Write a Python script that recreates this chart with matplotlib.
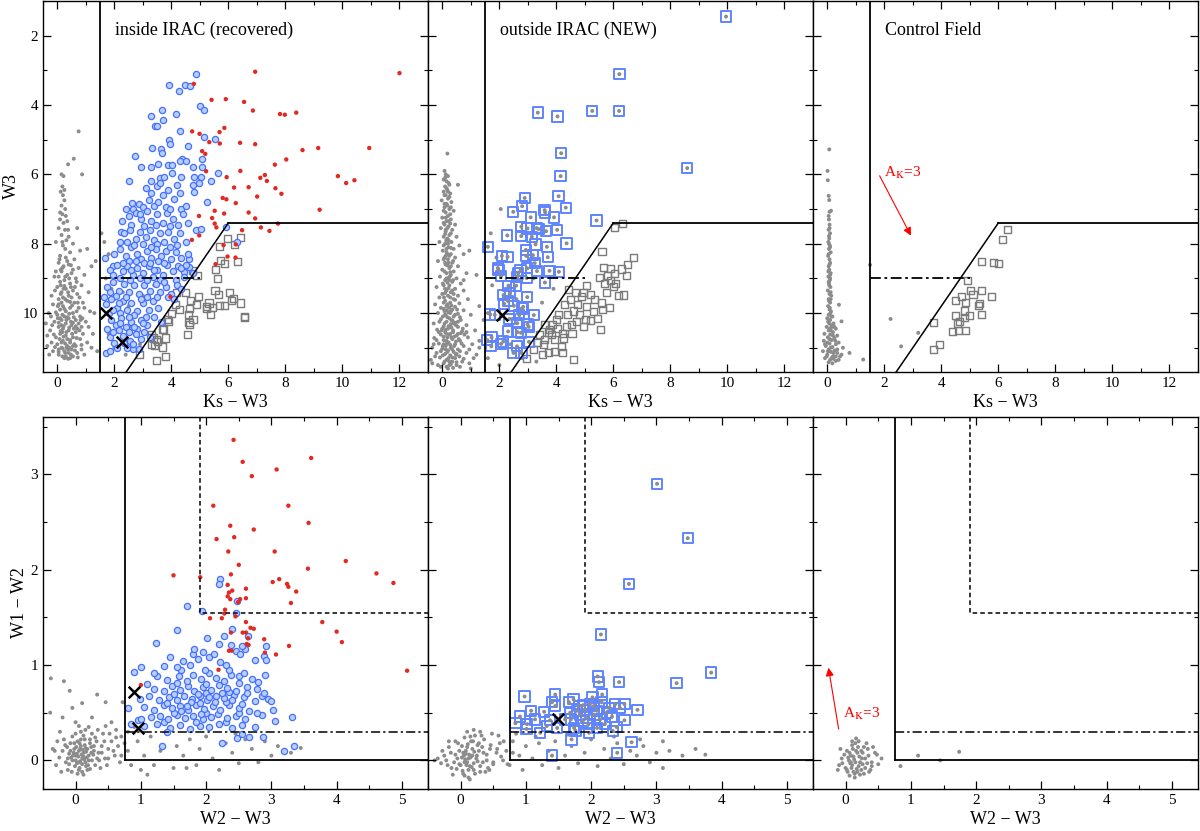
import matplotlib
matplotlib.use("Agg")
import matplotlib.pyplot as plt
import numpy as np
from matplotlib.ticker import MultipleLocator

plt.rcParams['font.family'] = ['Liberation Serif', 'DejaVu Serif']
plt.rcParams['mathtext.fontset'] = 'stix'

# ---------------- data: Ks-W3 vs W3 (top row) ----------------
# inside IRAC: red dots
in_red = [(4.79,3.39),(6.94,3.04),(12.0,3.08),(5.41,3.85),(5.91,3.83),(6.55,3.91),(6.86,4.16),
          (7.81,4.26),(7.98,4.28),(8.38,4.22),(4.73,4.76),(4.99,4.83),(5.86,4.66),(5.69,4.78),
          (5.33,5.07),(5.70,5.11),(6.41,5.09),(6.94,5.13),(8.60,5.30),(9.15,5.24),(10.94,5.24),
          (5.08,5.33),(5.19,5.41),(7.63,5.72),(8.03,5.57),(5.22,5.91),(6.42,5.90),(5.94,6.08),
          (7.28,6.02),(7.12,6.10),(7.35,6.19),(9.84,6.05),(10.13,6.25),(10.42,6.17),(6.20,6.38),
          (6.71,6.37),(7.65,6.40),(7.86,6.56),(7.01,6.64),(5.80,6.68),(5.93,6.72),(6.26,6.83),
          (5.52,7.05),(6.71,7.10),(5.85,7.13),(4.97,7.20),(9.20,7.02),(5.43,7.26),(6.94,7.27),
          (5.52,7.42),(5.58,7.53),(7.14,7.53),(7.74,7.42),(7.44,7.63),(6.48,7.61),(4.98,7.76),
          (4.72,7.89),(5.83,8.04),(6.26,8.02),(5.97,8.37),(6.25,8.40),(5.55,8.59),(3.97,9.53)]

in_blue = [(4.85,3.10),(3.92,3.42),(4.27,3.59),(4.48,3.43),(4.65,3.46),(5.00,4.02),(5.13,4.13),
           (3.66,4.13),(3.27,4.31),(4.17,4.27),(3.72,4.42),(3.42,4.60),(3.51,4.60),(4.29,4.74),
           (5.13,4.93),(5.52,4.98),(3.93,5.02),(3.95,5.11),(3.33,5.24),(3.64,5.28),(3.66,5.38),
           (4.57,5.18),(2.74,5.48),(5.07,5.57),(4.36,5.57),(4.29,5.62),(4.53,5.62),(3.52,5.70),
           (3.89,5.74),(4.03,5.74),(2.95,5.78),(3.27,5.80),(4.76,5.78),(5.08,5.78),(2.51,6.19),
           (5.63,5.95),(4.02,5.95),(4.35,6.08),(4.79,6.07),(5.05,6.07),(5.38,6.20),(4.96,6.25),
           (4.75,6.32),(3.30,6.19),(3.61,6.10),(3.73,6.08),(4.78,6.50),(5.26,6.81),(2.61,6.82),
           (2.27,7.35),(2.22,7.66),(1.67,8.41),(1.96,8.63),(1.64,9.53),(1.70,11.15),(2.65,11.05),
           (4.35,7.00),(4.87,7.60),(5.04,7.58),(6.29,7.94),(5.92,7.53),(4.63,8.45),(4.61,8.68),
           (4.44,8.82),
           (2.85,6.85),(3.10,6.40),(3.30,6.55),(3.50,6.35),(3.70,6.60),(3.90,6.45),(4.10,6.70),
           (4.30,6.55),(3.00,6.95),(3.40,6.90),(3.80,6.95),(4.50,6.90),(2.65,7.00),(3.60,6.25),
           (4.20,6.30),(2.50,7.20),(2.75,7.10),(2.95,7.30),(3.15,7.05),(3.30,7.35),(3.50,7.15),
           (3.70,7.40),(3.85,7.10),(4.05,7.30),(4.25,7.45),(4.40,7.15),(2.60,7.45),(3.05,7.50),
           (3.45,7.45),(3.95,7.50),(4.60,7.40),(2.35,7.70),(2.55,7.60),(2.75,7.85),(2.90,7.65),
           (3.10,7.80),(3.25,7.60),(3.40,7.90),(3.60,7.70),(3.75,7.95),(3.90,7.65),(4.10,7.85),
           (4.30,7.70),(4.50,7.95),(2.20,7.95),(3.00,8.00),(3.50,8.00),(4.20,8.05),(2.00,8.30),
           (2.20,8.15),(2.40,8.35),(2.60,8.10),(2.80,8.30),(2.95,8.45),(3.15,8.20),(3.30,8.40),
           (3.45,8.15),(3.65,8.35),(3.80,8.20),(4.00,8.45),(4.15,8.25),(4.35,8.40),(2.50,8.50),
           (3.05,8.55),(3.55,8.50),(4.60,8.30),(1.85,8.75),(2.10,8.60),(2.30,8.80),(2.45,8.65),
           (2.65,8.90),(2.80,8.70),(3.00,8.85),(3.20,8.65),(3.35,8.95),(3.50,8.75),(3.70,8.90),
           (3.85,8.60),(4.05,8.80),(4.25,8.65),(4.45,8.95),(2.20,9.00),(2.90,9.00),(3.60,9.05),
           (4.15,9.05),(4.75,8.85),(1.75,9.25),(1.95,9.10),(2.15,9.35),(2.35,9.15),(2.50,9.40),
           (2.70,9.20),(2.85,9.45),(3.05,9.20),(3.25,9.35),(3.45,9.15),(3.60,9.40),(3.80,9.25),
           (4.00,9.45),(4.20,9.20),(2.05,9.50),(3.15,9.55),(3.90,9.55),(1.70,9.75),(1.90,9.60),
           (2.10,9.85),(2.30,9.65),(2.45,9.90),(2.60,9.70),(2.80,9.95),(3.00,9.70),(3.20,9.90),
           (3.35,9.65),(3.55,9.85),(1.80,10.00),(2.20,10.00),(2.70,10.05),(3.10,10.10),(1.90,10.20),
           (2.05,10.35),(2.25,10.15),(2.40,10.40),(2.60,10.25),(2.80,10.45),(2.95,10.20),(3.15,10.35),
           (1.75,10.45),(2.15,10.50),(2.50,10.55),(1.85,10.70),(2.00,10.85),(2.30,10.65),(2.55,10.80),
           (2.75,10.60),(2.95,10.75),(2.10,11.00),(2.45,11.00),(2.65,10.90),(3.05,10.55),
           (2.40,7.00),(2.90,7.15),(3.20,6.75),(3.55,6.80),(3.95,7.00),(2.45,7.95),(2.70,8.05),
           (3.30,8.10),(3.95,8.10),(2.30,8.55),(2.75,8.50),(3.25,8.55),(3.75,8.55),(4.35,8.70),
           (1.95,8.90),(2.55,9.05),(3.15,9.05),(3.75,9.10),(4.35,9.30),(1.85,9.40),(2.40,9.55),
           (2.95,9.60),(3.50,9.55),(4.10,9.60),(1.95,9.90),(2.50,10.10),(3.00,10.30),(2.20,10.30),
           (1.95,10.55),(2.70,10.40),(2.35,10.85),(2.85,11.05),(1.85,11.10),(3.25,10.70),(3.40,10.10),
           (2.15,9.70),(2.60,8.75),(3.40,8.75),(4.50,8.60),(3.65,10.25)]

in_sq = [(5.97,7.84),(5.70,8.08),(6.43,7.83),(6.20,8.03),(5.74,8.48),(5.86,8.56),(6.33,8.50),
         (5.56,8.74),(4.74,8.77),(4.90,8.93),(5.63,9.00),(5.53,9.36),(5.66,9.47),(6.05,9.42),
         (4.95,9.51),(6.17,9.58),(6.12,9.63),(4.50,9.40),(4.17,9.40),(4.66,9.63),(4.87,9.76),
         (5.23,9.81),(5.32,9.71),(5.43,9.83),(5.70,9.79),(5.87,9.79),(6.42,9.71),(4.15,9.75),
         (4.29,9.89),(4.59,10.05),(4.64,9.88),(3.99,10.00),(5.23,9.88),(5.37,10.03),(6.55,10.09),
         (6.57,10.14),(4.76,10.19),(4.62,10.26),(4.64,10.33),(3.86,10.19),(3.89,10.24),(3.74,10.46),
         (3.68,10.48),(4.56,10.62),(3.31,10.62),(3.36,10.72),(3.47,10.75),(3.51,10.81),(3.32,10.91),
         (3.40,10.93),(3.70,10.98),(3.78,11.26),(3.47,11.37),(2.89,11.20),(3.81,10.72)]

in_gray = [(0.75,4.76),(0.58,5.55),(0.38,5.71),(0.87,6.00),(0.15,6.00),(0.22,6.05),(0.18,6.35),
           (0.12,6.50),(0.20,6.60),(0.25,6.75),(0.15,6.90),(0.28,7.00),(0.18,7.15),(0.30,7.20),
           (0.10,7.30),(0.22,7.40),(0.35,7.35),(0.05,7.55),(0.27,7.60),(0.70,7.55),(0.15,7.75),
           (0.40,7.80),(0.32,7.90),(-0.05,7.95),(0.55,8.00),(0.20,8.05),(1.05,8.15),(0.80,8.20),
           (0.45,8.25),(0.10,8.35),(0.30,8.40),(0.60,8.45),(0.05,8.55),(0.40,8.60),(0.22,8.65),
           (0.75,8.70),(0.15,8.80),(0.50,8.85),(0.35,8.90),(-0.10,8.95),(0.65,9.00),(0.25,9.05),
           (0.10,9.10),(0.45,9.15),(0.85,9.20),(0.00,9.25),(0.30,9.30),(0.55,9.35),(0.15,9.40),
           (1.10,9.40),(0.70,9.45),(-0.20,9.50),(0.40,9.50),(0.20,9.55),(1.35,8.50),(1.20,8.65),
           (0.95,8.90),(0.05,9.60),(0.35,9.65),(0.60,9.70),(0.90,9.70),(-0.15,9.75),(0.20,9.80),
           (0.45,9.85),(0.75,9.85),(0.10,9.90),(0.30,9.95),(1.15,9.95),(0.55,10.00),(-0.30,10.00),
           (0.00,10.05),(0.25,10.10),(0.80,10.10),(0.40,10.15),(0.15,10.20),(0.65,10.20),(-0.10,10.25),
           (1.00,10.25),(0.30,10.30),(0.50,10.35),(0.05,10.40),(0.85,10.40),(0.20,10.45),(-0.25,10.50),
           (0.40,10.50),(0.65,10.55),(0.10,10.60),(1.25,10.60),(0.30,10.65),(0.55,10.70),(-0.05,10.70),
           (0.80,10.75),(0.20,10.80),(0.45,10.85),(1.05,10.85),(0.00,10.90),(0.35,10.95),(0.65,10.95),
           (-0.35,10.95),(0.15,11.00),(0.50,11.05),(0.85,11.05),(0.25,11.10),(-0.15,11.10),(0.40,11.15),
           (0.70,11.15),(0.05,11.20),(0.30,11.25),(0.55,11.25),(1.40,11.10),(0.95,11.20),(-0.40,10.30),
           (1.30,10.00),(0.70,10.45),(0.15,9.70),(0.50,9.55),(0.35,10.75),(0.60,10.90),(0.90,10.60),
           (-0.20,10.85),(0.25,11.30),(0.45,11.30),(0.10,10.15),(0.75,10.30),(0.05,11.05),(0.28,8.15),
           (0.12,8.75),(0.48,9.25),(0.02,9.80),(0.58,10.12),(0.18,10.55),(0.42,11.00),(0.68,9.10),
           (0.08,8.45),(0.35,8.50),(0.18,8.70),(0.55,8.75),(-0.05,8.80),(0.28,8.95),(0.42,9.00),
           (0.12,9.20),(0.62,9.25),(0.22,9.30),(-0.08,9.35),(0.38,9.40),(0.78,9.55),(0.28,9.60),
           (0.05,9.75),(0.52,9.78),(0.25,9.88),(0.68,9.95),(-0.05,9.98),(0.42,10.02),(0.18,10.05),
           (0.88,10.15),(0.32,10.20),(0.05,10.28),(0.55,10.28),(-0.18,10.35),(0.22,10.38),(0.42,10.42),
           (0.78,10.50),(0.12,10.52),(0.32,10.55),(0.52,10.60),(-0.12,10.62),(0.22,10.68),(0.68,10.72),
           (0.08,10.75),(0.45,10.78),(0.28,10.88),(0.85,10.92),(-0.08,10.98),(0.18,11.02),(0.38,11.05),
           (0.62,11.08),(0.05,11.12),(0.28,11.15),(0.48,11.20),(-0.28,11.20),(0.18,11.25),(0.72,11.28),
           (0.38,11.32),(0.12,9.45),(0.45,9.68),(0.02,10.15),(0.65,10.38),(0.35,10.12),(0.15,10.85),
           (0.55,10.95),(0.95,9.85),(1.10,10.40),(1.20,11.00),(-0.35,10.65),(0.25,9.22),(0.05,8.95),
           (0.48,8.62),(0.18,7.95),(0.38,7.60),(0.10,7.10),(0.25,6.45),(0.32,11.00),(0.58,10.45),
           (0.82,10.20),(0.15,10.35),(-0.22,10.10),(0.48,10.25),(0.72,9.70),
           (1.55,7.70),(1.65,7.95),(1.80,8.30),(1.70,9.00),(1.90,9.30),(2.00,9.60),(2.30,9.40),
           (2.50,9.80),(2.70,9.20),(3.00,9.50),(2.20,10.20),(2.60,10.40),(3.10,10.60),(1.80,10.60),
           (2.00,11.00),(2.40,11.20),(2.90,10.90),(3.40,9.20),(3.60,9.90)]

in_cross = [(1.70,10.00),(2.28,10.84)]

# outside IRAC
out_blue = [(9.95,1.45),(6.21,3.11),(3.35,4.22),(4.04,4.33),(5.26,4.17),(6.20,4.17),(4.17,5.39),
            (4.15,6.05),(8.59,5.82),(4.08,6.63),(2.89,6.68),(2.80,6.92),(2.49,7.08),(3.59,7.03),
            (3.61,7.10),(4.33,6.96),(3.92,7.24),(3.10,7.24),(5.41,7.33),(2.77,7.51),(2.99,7.56),
            (3.31,7.55),(3.38,7.58),(4.03,7.60),(3.64,7.64),(2.28,7.76),(2.77,7.78),(3.14,7.80),
            (4.36,7.99),(3.27,8.02),(3.67,8.09),(1.60,8.09),(2.09,8.35),(2.29,8.38),(2.93,8.18),
            (2.94,8.35),(3.18,8.33),(3.70,8.39),(3.24,8.56),(1.95,8.70),(1.97,8.75),(2.98,8.71),
            (2.74,8.77),(2.06,8.93),(2.66,8.86),(2.63,8.96),(2.96,8.99),(3.32,8.79),(3.76,8.78),
            (4.09,8.81),(3.60,9.12),(2.32,9.21),(2.59,9.21),(2.15,9.48),(2.38,9.43),(2.98,9.54),
            (2.30,9.65),(2.17,9.73),(2.51,9.79),(2.84,9.82),(2.79,9.87),(1.68,10.04),(1.84,10.05),
            (3.21,10.06),(2.70,10.06),(2.36,10.17),(2.99,10.33),(2.63,10.29),(3.03,10.40),(2.64,10.55),
            (2.31,10.53),(2.76,10.57),(3.04,10.83),(1.58,10.78),(1.73,10.70),(2.06,10.89),(1.72,10.96),
            (2.62,10.96),(2.50,11.15),(2.78,11.15),(2.14,10.82)]

out_sq = [(6.33,7.42),(6.03,7.54),(5.60,8.23),(6.72,8.40),(6.50,8.61),(6.27,8.73),(6.46,8.93),
          (5.90,8.71),(5.64,8.69),(5.78,8.93),(5.50,8.97),(6.09,9.14),(6.01,9.23),(6.36,9.48),
          (6.19,9.49),(5.76,9.42),(5.85,9.83),(5.57,9.71),(5.20,9.47),(4.95,9.40),(4.87,9.52),
          (4.66,9.42),(4.42,9.33),(4.50,9.62),(4.29,9.76),(4.61,9.94),(4.82,10.04),(5.06,9.81),
          (5.29,9.95),(5.62,9.90),(5.02,10.19),(4.71,10.24),(5.20,10.21),(5.54,10.48),(4.53,10.33),
          (4.36,10.38),(4.07,10.05),(4.01,10.19),(3.87,10.33),(3.77,10.48),(3.57,10.33),(3.83,10.62),
          (4.22,10.60),(4.25,10.72),(3.94,10.76),(3.71,10.55),(3.42,10.62),(3.33,10.86),(3.54,10.91),
          (4.18,10.96),(3.73,11.13),(3.92,11.10),(4.21,11.15),(4.59,11.34),(5.35,9.60),(5.05,9.20),
          (4.75,9.75),(5.45,10.15),(4.95,10.40),(3.60,10.75),(4.40,10.05),(5.90,9.05),(3.20,11.05),
          (3.50,11.20),(2.95,11.30),(4.05,10.45),(5.70,9.15),(6.05,8.85),(4.55,10.60)]

out_gray = [(0.18,5.40),(0.08,5.90),(0.12,6.00),(0.20,6.05),(0.05,6.15),(0.15,6.20),(0.25,6.30),
            (0.10,6.35),(0.55,6.30),(0.18,6.45),(0.05,6.50),(0.28,6.55),(0.12,6.60),(0.20,6.70),
            (-0.02,6.75),(0.32,6.80),(0.15,6.85),(0.08,6.95),(0.25,7.00),(0.40,7.05),(0.12,7.10),
            (0.20,7.20),(0.00,7.25),(0.30,7.30),(0.15,7.35),(0.08,7.45),(0.45,7.45),(0.22,7.50),
            (-0.05,7.55),(0.35,7.60),(0.12,7.65),(0.25,7.75),(0.05,7.80),(0.50,7.80),(0.18,7.85),
            (0.32,7.95),(-0.10,7.95),(0.10,8.00),(0.60,8.05),(0.22,8.10),(0.40,8.15),(0.02,8.20),
            (0.15,8.25),(0.30,8.30),(0.75,8.30),(0.08,8.40),(0.45,8.40),(0.20,8.45),(-0.15,8.50),
            (0.35,8.55),(0.12,8.60),(0.55,8.65),(0.25,8.70),(0.00,8.75),(0.40,8.80),(0.15,8.85),
            (0.85,8.85),(0.30,8.90),(-0.08,8.95),(0.20,9.00),(0.50,9.00),(0.10,9.05),(0.35,9.10),
            (0.65,9.15),(0.05,9.20),(0.25,9.20),(-0.20,9.25),(0.45,9.30),(0.15,9.35),(0.75,9.35),
            (0.30,9.40),(0.00,9.45),(0.55,9.50),(0.20,9.50),(-0.10,9.55),(0.40,9.60),(0.10,9.65),
            (0.90,9.60),(0.28,9.70),(0.60,9.72),(-0.25,9.75),(0.15,9.80),(0.45,9.82),(0.05,9.88),
            (0.35,9.90),(0.75,9.92),(0.22,9.98),(-0.15,10.00),(0.55,10.02),(0.10,10.05),(0.40,10.10),
            (1.00,10.05),(0.25,10.15),(-0.05,10.18),(0.65,10.20),(0.15,10.25),(0.45,10.28),(-0.30,10.30),
            (0.30,10.32),(0.85,10.35),(0.05,10.38),(0.55,10.40),(0.20,10.45),(-0.18,10.48),(0.38,10.50),
            (0.70,10.52),(0.10,10.55),(1.15,10.50),(0.28,10.60),(-0.05,10.62),(0.50,10.65),(0.18,10.70),
            (0.90,10.70),(-0.28,10.72),(0.35,10.75),(0.05,10.78),(0.62,10.80),(0.22,10.85),(-0.12,10.88),
            (0.45,10.90),(1.05,10.90),(0.12,10.95),(0.75,10.95),(0.30,11.00),(-0.35,11.00),(0.00,11.03),
            (0.55,11.05),(0.20,11.08),(0.40,11.12),(-0.20,11.15),(0.85,11.15),(0.10,11.18),(0.28,11.22),
            (0.60,11.25),(-0.08,11.28),(0.45,11.30),(0.15,11.35),(1.20,11.20),(0.35,11.40),(0.70,11.40),
            (-0.40,11.35),(0.05,11.45),(0.25,11.50),(0.50,11.50),(0.12,11.05),(0.32,10.42),(0.08,9.95),
            (0.18,9.12),(0.22,8.55),(0.28,7.42),(0.02,10.95),(0.42,10.68),(0.65,10.58),(0.15,11.55),
            (0.38,11.58),(-0.15,11.50),(0.95,11.45),(1.30,10.80),(0.14,7.90),(0.26,8.95),(0.06,9.55),
            (0.36,10.22),(0.16,10.88),(0.48,11.20),(-0.02,10.50),(0.24,9.85),(0.12,8.35),(0.30,6.95),
            (0.10,6.10),(0.22,6.25),(0.15,6.40),(0.08,6.60),(0.25,6.65),(0.18,6.90),(0.05,7.05),
            (0.28,7.15),(0.12,7.25),(0.22,7.35),(0.05,7.40),(0.18,7.55),(0.30,7.70),(0.10,7.72),
            (0.22,7.90),(0.05,8.05),(0.30,8.12),(0.15,8.15),(0.25,8.35),(0.05,8.45),(0.38,8.50),
            (0.18,8.62),(0.08,8.80),(0.28,8.82),(0.15,9.00),(0.38,9.05),(0.02,9.15),(0.22,9.28),
            (0.35,9.35),(0.10,9.42),(0.28,9.55),(0.45,9.62),(0.05,9.70),(0.18,9.75),(0.32,9.78),
            (-0.05,9.85),(0.52,9.90),(0.15,9.92),(0.28,10.00),(0.02,10.10),(0.45,10.05),(0.18,10.12),
            (0.62,10.12),(0.32,10.20),(-0.10,10.25),(0.08,10.30),(0.48,10.35),(0.22,10.38),(0.72,10.45),
            (0.12,10.48),(0.38,10.55),(-0.12,10.55),(0.55,10.60),(0.25,10.62),(0.05,10.68),(0.78,10.62),
            (0.32,10.70),(-0.20,10.78),(0.15,10.80),(0.48,10.82),(0.68,10.88),(0.28,10.92),(0.05,10.90),
            (-0.05,11.10),(0.35,11.05),(0.62,11.10),(0.18,11.12),(0.50,11.18),(0.02,11.22),(0.35,11.28),
            (-0.25,11.25),(0.22,11.30),(0.75,11.32),(0.08,11.40),(0.50,11.42),(0.30,11.48),(-0.05,11.55),
            (0.62,11.55),(0.20,11.60),(0.42,10.95),(0.58,10.75),(0.12,10.05),(0.40,9.45),(0.25,9.05),
            (0.10,8.55),(0.20,8.00),(0.12,7.60),(0.08,6.85),(0.20,6.50),(0.30,9.95),(0.55,10.25),
            (0.85,10.55),(0.95,11.05),(1.10,11.30),(-0.30,10.90),(-0.35,11.45),(0.00,10.45),(0.15,10.60),
            (0.25,11.40),(0.40,10.30),(0.10,9.30),(0.30,8.65),(0.18,8.30),
            (0.95,8.20),(1.20,8.90),(1.30,9.80),(1.45,10.20),(1.30,11.00),(1.60,11.30),(1.75,9.20),
            (1.90,8.40),(2.05,7.00),(1.70,7.70),(2.60,9.60),(3.00,10.00),(3.20,9.00),(3.50,9.70),
            (3.90,9.30),(2.40,10.90),(3.30,11.40),(2.00,11.50),(1.60,10.00),(2.80,11.30),(1.00,11.60),
            (0.75,9.05)]

out_cross = [(2.10,10.06)]

# control field
ctl_sq = [(6.31,7.58),(6.14,7.89),(5.42,8.51),(5.84,8.54),(5.99,8.56),(4.93,9.05),(5.01,9.35),
          (5.11,9.47),(5.41,9.35),(4.71,9.51),(5.75,9.52),(4.51,9.64),(4.84,9.70),(5.33,9.72),
          (5.30,9.79),(4.82,9.94),(4.50,10.06),(4.98,10.07),(5.41,10.04),(4.80,10.13),(4.63,10.25),
          (4.57,10.30),(3.73,10.27),(4.38,10.52),(4.59,10.50),(4.86,10.50),(3.94,10.92),(3.73,11.05)]

ctl_gray = [(0.07,5.28),(0.01,5.90),(0.02,6.17),(0.05,6.62),(0.07,6.74),(0.08,7.08),(0.13,7.05),
            (0.06,7.30),(0.08,7.45),(0.05,7.60),(0.10,7.70),(0.07,7.85),(0.04,7.95),(0.09,8.05),
            (0.06,8.15),(0.12,8.25),(0.03,8.35),(0.08,8.45),(0.10,8.55),(0.05,8.65),(0.07,8.75),
            (0.12,8.85),(0.04,8.95),(0.09,9.05),(0.06,9.15),(0.11,9.25),(0.02,9.35),(0.08,9.45),
            (0.14,9.50),(0.05,9.60),(0.10,9.70),(0.41,9.76),(0.03,9.80),(0.08,9.90),(0.13,9.95),
            (0.05,10.05),(0.18,10.10),(0.00,10.15),(0.10,10.20),(0.50,10.24),(0.07,10.30),(0.22,10.30),
            (-0.02,10.40),(0.14,10.42),(0.30,10.45),(0.05,10.50),(0.20,10.55),(-0.10,10.60),(0.10,10.62),
            (0.35,10.65),(0.02,10.70),(0.25,10.72),(0.15,10.78),(-0.12,10.80),(0.40,10.85),(0.08,10.88),
            (0.30,10.90),(-0.05,10.95),(0.18,10.98),(0.55,11.00),(0.05,11.05),(0.25,11.08),(-0.15,11.10),
            (0.12,11.12),(0.35,11.15),(0.78,11.15),(0.00,11.20),(0.20,11.25),(0.45,11.25),(-0.08,11.30),
            (0.10,11.35),(1.26,11.34),(0.30,11.38),(0.05,11.42),(0.18,11.45),(1.50,8.61),(2.22,10.17),
            (2.59,10.96),(3.19,10.57),(0.10,9.00),(0.06,8.00),(0.11,10.00),(0.09,10.45),(0.04,8.80),
            (0.12,9.60),(0.07,9.20),(0.15,10.35),(0.00,10.85),(0.22,11.32),
            (0.05,7.20),(0.08,7.55),(0.06,7.78),(0.10,8.10),(0.05,8.30),(0.08,8.60),(0.10,8.90),
            (0.05,9.10),(0.12,9.40),(0.06,9.65),(0.09,9.85),(0.14,10.10),(0.03,10.25),(0.12,10.50),
            (0.20,10.65),(0.08,10.75),(0.28,10.80),(-0.08,10.90),(0.12,11.00),(0.35,11.05),(0.02,11.10),
            (0.22,11.15),(0.15,11.30),(0.40,11.35),(-0.02,11.25),(0.50,11.20),(0.25,10.40),(0.30,11.25)]

# ---------------- data: W2-W3 vs W1-W2 (bottom row) ----------------
in_red_cc = [(2.42,3.36),(2.56,3.13),(2.70,2.98),(3.08,3.05),(3.61,3.17),(2.11,2.67),(3.26,2.67),
             (3.57,2.49),(2.37,2.46),(2.73,2.42),(2.16,2.32),(2.43,2.34),(2.34,2.19),(3.05,2.19),
             (2.50,2.05),(4.14,2.09),(3.56,2.01),(1.50,1.94),(2.38,1.95),(1.91,1.92),(4.61,1.96),
             (4.87,1.86),(3.12,1.90),(3.02,1.87),(3.24,1.85),(3.26,1.82),(2.33,1.84),(3.38,1.77),
             (2.40,1.78),(2.61,1.80),(2.35,1.76),(2.33,1.72),(2.61,1.70),(2.52,1.69),(2.37,1.69),
             (2.49,1.66),(3.30,1.65),(2.29,1.58),(2.28,1.54),(2.45,1.51),(2.06,1.49),(2.24,1.49),
             (2.61,1.45),(3.78,1.45),(2.68,1.39),(2.73,1.38),(2.38,1.34),(2.56,1.34),(2.61,1.34),
             (4.00,1.35),(4.08,1.24),(2.62,1.22),(2.65,1.21),(2.64,1.28),(3.27,1.20),(2.89,1.27),
             (2.35,1.15),(2.39,1.15),(2.90,1.13),(3.07,1.11),(2.19,0.95),(5.08,0.94),(1.00,0.79)]

in_blue_cc = [(1.05,0.36),(1.25,0.38),(1.45,0.34),(1.60,0.37),(1.75,0.33),(1.90,0.36),(2.05,0.35),
              (2.20,0.38),(2.40,0.34),(2.55,0.37),(2.75,0.35),(1.35,0.40),(1.85,0.40),(2.30,0.40),
              (0.95,0.42),(1.15,0.45),(1.30,0.47),(1.42,0.43),(1.55,0.48),(1.68,0.44),(1.80,0.47),
              (1.95,0.43),(2.08,0.46),(2.18,0.49),(2.32,0.44),(2.45,0.47),(2.60,0.43),(2.85,0.48),
              (3.05,0.41),(1.50,0.50),(2.00,0.50),(2.50,0.50),(0.80,0.55),(1.05,0.56),(1.20,0.53),
              (1.35,0.58),(1.48,0.55),(1.60,0.57),(1.72,0.53),(1.85,0.58),(1.97,0.54),(2.10,0.57),
              (2.22,0.53),(2.35,0.58),(2.50,0.55),(2.65,0.52),(2.78,0.50),(3.02,0.53),(1.40,0.60),
              (1.90,0.60),(2.30,0.61),(2.55,0.59),(0.98,0.64),(1.12,0.67),(1.28,0.63),(1.43,0.66),
              (1.55,0.63),(1.66,0.68),(1.78,0.64),(1.90,0.67),(2.02,0.63),(2.15,0.68),(2.28,0.65),
              (2.42,0.69),(2.58,0.66),(2.75,0.62),(2.95,0.64),(1.50,0.70),(2.00,0.71),(2.35,0.72),
              (2.85,0.68),(1.20,0.75),(1.35,0.73),(1.48,0.78),(1.60,0.74),(1.72,0.78),(1.82,0.73),
              (1.95,0.77),(2.08,0.74),(2.20,0.79),(2.32,0.76),(2.45,0.73),(2.62,0.77),(2.78,0.75),
              (2.88,0.71),(1.10,0.80),(1.55,0.81),(2.00,0.80),(2.50,0.81),(1.25,0.88),(1.40,0.84),
              (1.58,0.88),(1.70,0.83),(1.80,0.90),(1.92,0.85),(2.05,0.92),(2.15,0.86),(2.28,0.83),
              (2.38,0.90),(2.50,0.88),(2.58,0.92),(2.90,0.90),(0.90,0.93),(1.20,0.92),(1.62,0.95),
              (1.98,0.95),(2.35,0.95),(2.70,0.85),(1.45,1.08),(1.65,1.04),(1.75,1.00),(1.80,1.12),
              (1.88,1.06),(2.05,1.08),(2.12,1.12),(2.22,1.03),(2.30,1.00),(2.45,1.15),(2.52,1.12),
              (2.60,1.17),(2.75,1.05),(2.88,1.09),(2.92,1.05),(1.00,0.98),(1.35,0.99),(1.55,0.98),
              (2.38,1.21),(2.55,1.20),(2.92,1.20),(1.82,1.17),(1.95,1.14),(2.20,1.22),(1.23,1.23),
              (1.55,1.37),(2.02,1.28),(2.39,1.38),(2.27,1.30),(1.70,1.62),(1.94,1.57),(2.46,1.54),
              (2.47,1.67),(2.21,1.90),(2.19,1.85),(2.64,1.30),(2.80,0.82),(3.00,0.62),(3.20,0.10),
              (3.35,0.15),(3.32,0.46),(1.32,0.15),(2.24,0.18),(2.87,0.24),(2.47,0.23),(2.55,0.28),
              (2.65,0.25),(1.40,0.30),(0.85,0.38),(1.00,0.43),(1.62,0.52),(1.77,0.61),(2.13,0.61),
              (2.40,0.63),(1.87,0.70),(2.25,0.71),(1.70,0.57),(2.05,0.66),(2.62,0.71),(1.92,0.49)]

in_gray_cc = [(0.00,0.05),(0.05,0.10),(0.10,0.02),(-0.05,0.00),(0.12,0.08),(0.02,-0.03),(0.08,0.15),
              (-0.10,0.07),(0.15,-0.02),(0.20,0.05),(-0.02,0.12),(0.06,-0.08),(0.18,0.12),(-0.15,-0.02),
              (0.25,0.00),(0.03,0.20),(-0.08,0.18),(0.14,0.22),(0.28,0.10),(-0.20,0.10),(0.10,-0.12),
              (0.30,-0.05),(-0.12,-0.10),(0.22,0.18),(0.35,0.08),(-0.25,0.03),(0.00,0.28),(0.16,-0.06),
              (0.40,0.15),(-0.05,0.25),(0.32,0.20),(0.45,0.02),(-0.30,-0.05),(0.08,0.30),(0.50,0.12),
              (0.25,0.28),(-0.18,0.22),(0.38,-0.08),(0.55,0.20),(0.12,-0.15),(-0.35,0.12),(0.60,0.05),
              (0.20,0.35),(0.42,0.28),(-0.22,-0.12),(0.65,0.15),(0.70,0.25),(0.48,-0.05),(0.04,0.04),
              (0.09,0.06),(-0.03,0.08),(0.13,0.01),(0.07,-0.01),(0.01,0.14),(0.11,0.11),(0.17,0.03),
              (-0.07,0.03),(0.19,-0.05),(0.05,-0.10),(0.24,0.14),(-0.13,0.14),(0.27,0.06),(0.06,0.18),
              (0.15,0.13),(-0.01,-0.06),(0.22,-0.09),(0.33,0.02),(-0.10,-0.04),
              (0.02,0.07),(0.07,0.12),(0.12,0.04),(-0.04,0.05),(0.16,0.09),(0.00,0.00),(0.10,-0.04),
              (0.05,-0.02),(-0.08,0.10),(0.20,0.00),(0.14,0.16),(0.08,0.22),(-0.02,0.18),(0.24,0.08),
              (0.18,-0.10),(0.28,0.15),(-0.12,0.02),(0.03,-0.14),(0.30,0.24),(0.36,0.00),(-0.16,0.16),
              (0.12,0.26),(0.40,0.08),(0.22,0.22),(-0.06,-0.12),(0.44,0.20),(0.50,0.02),(0.34,0.32),
              (0.58,0.10),(0.62,0.24),(0.52,0.28),(-0.28,0.20),(-0.32,0.10),(0.70,0.05),(0.75,0.18),
              (0.68,-0.02),(0.15,0.32),(0.05,0.36),(0.46,0.36),(-0.24,0.30),
              (-0.38,0.86),(-0.18,0.83),(-0.09,0.73),(-0.39,0.50),(0.33,0.69),(0.46,0.61),(0.72,0.61),
              (-0.05,0.55),(0.10,0.60),(0.00,0.40),(-0.20,0.45),(0.25,0.45),(0.55,0.40),(0.62,0.32),
              (0.80,0.10),(0.85,-0.05),(0.95,0.20),(1.00,-0.10),(1.05,0.05),(1.15,0.25),(1.20,-0.05),
              (1.30,0.10),(1.40,0.28),(1.50,-0.08),(1.55,0.15),(1.65,0.05),(1.75,0.22),(1.85,-0.05),
              (1.90,0.12),(2.00,0.25),(2.10,0.02),(2.20,-0.10),(2.30,0.18),(2.40,0.08),(2.50,-0.03),
              (2.60,0.22),(2.70,0.12),(2.80,-0.02),(2.90,0.20),(3.00,0.05),(3.10,0.15),(3.30,0.08),
              (3.45,0.13),(1.10,-0.15),(1.70,-0.08),(2.45,0.28),(0.90,0.35),(1.25,0.38),(0.80,0.30)]

in_cross_cc = [(0.90,0.72),(0.95,0.34)]

out_blue_cc = [(3.01,2.90),(3.48,2.33),(2.58,1.85),(2.15,1.32),(3.84,0.92),(3.31,0.81),(2.10,0.88),
               (2.12,0.82),(2.43,0.82),(0.98,0.67),(1.45,0.69),(1.40,0.61),(1.45,0.57),(1.73,0.64),
               (1.66,0.61),(2.02,0.66),(2.17,0.69),(2.16,0.61),(1.88,0.58),(1.82,0.57),(2.04,0.57),
               (2.37,0.59),(2.51,0.59),(2.71,0.53),(0.91,0.46),(1.08,0.52),(1.28,0.51),(1.14,0.43),
               (0.84,0.39),(1.02,0.38),(1.01,0.33),(1.22,0.29),(1.32,0.36),(1.37,0.42),(1.48,0.34),
               (1.68,0.50),(1.69,0.43),(1.74,0.34),(1.76,0.31),(1.70,0.22),(1.93,0.45),(1.96,0.38),
               (1.97,0.29),(2.04,0.48),(2.14,0.43),(2.21,0.38),(2.24,0.50),(2.32,0.46),(2.39,0.35),
               (2.33,0.31),(2.51,0.42),(2.44,0.55),(2.09,0.34),(1.83,0.48),(1.87,0.41),(1.90,0.53),
               (2.62,0.19),(2.40,0.08),(1.40,0.05),(1.60,0.43),(1.78,0.52),(1.98,0.59),(2.09,0.52),
               (2.27,0.55)]

out_gray_cc = [(0.10,-0.02),(0.05,0.05),(0.15,0.03),(0.00,-0.05),(0.20,-0.03),(0.08,0.10),(-0.05,0.02),
               (0.12,-0.10),(0.25,0.05),(-0.10,-0.02),(0.18,0.12),(0.02,0.15),(0.30,-0.06),(-0.15,0.08),
               (0.22,-0.14),(0.35,0.08),(-0.20,-0.05),(0.06,-0.16),(0.40,0.00),(0.28,0.18),(-0.08,0.20),
               (-0.25,0.05),(0.45,0.12),(0.15,0.25),(-0.30,-0.03),(0.50,-0.04),(0.10,0.30),(-0.35,0.02),
               (0.55,0.08),(0.32,0.26),(-0.12,-0.15),(0.38,-0.12),(0.60,0.18),(0.14,-0.20),(0.04,0.08),
               (0.09,-0.05),(0.13,0.06),(-0.02,0.10),(0.17,-0.07),(0.07,0.01),(0.21,0.09),(-0.06,-0.09),
               (0.26,-0.01),(0.11,0.17),(0.03,-0.11),(0.19,0.20),(-0.18,0.14),(0.33,0.14),(0.42,-0.08),
               (0.12,0.02),(0.06,-0.02),(0.18,0.05),(0.02,0.03),(0.14,-0.06),(0.24,0.02),(0.08,0.07),
               (-0.02,-0.04),(0.20,-0.10),(0.28,0.10),(0.10,0.14),(-0.08,0.06),(0.34,-0.02),(0.16,0.20),
               (-0.14,-0.08),(0.40,0.06),(0.04,-0.14),(0.30,-0.12),(0.46,0.16),(0.22,0.26),(-0.22,0.00),
               (0.50,-0.02),(-0.04,0.18),(0.36,0.22),(0.56,0.12),(0.12,-0.18),(0.26,0.16),(-0.28,0.10),
               (0.44,-0.10),(0.62,0.04),(0.66,0.20),(0.72,-0.04),(0.58,0.26),(0.06,0.24),(-0.18,0.20),
               (0.20,0.32),(0.48,0.28),(-0.40,0.00),(0.30,0.30),(0.80,0.08),
               (0.65,0.00),(0.70,0.10),(0.75,-0.05),(0.80,0.20),(0.90,0.05),(0.95,-0.10),(1.00,0.15),
               (1.10,0.02),(1.15,0.25),(1.25,-0.05),(1.35,0.10),(1.45,0.20),(1.50,-0.08),(1.60,0.05),
               (1.70,0.15),(1.80,-0.03),(1.90,0.08),(2.00,0.22),(2.10,-0.06),(2.20,0.12),(2.30,0.02),
               (2.40,0.18),(2.50,-0.04),(2.60,0.10),(2.70,0.05),(2.80,0.15),(2.90,-0.02),(3.00,0.08),
               (3.10,0.20),(3.20,0.10),(3.40,0.05),(3.60,0.12),(3.75,0.06),(3.10,-0.08),(2.35,0.25),
               (1.20,0.18),(0.85,0.28),(1.65,0.27),(2.75,0.22)]

out_cross_cc = [(1.49,0.43)]

ctl_gray_cc = [(0.10,-0.05),(0.05,0.00),(0.15,-0.02),(0.00,-0.08),(0.20,-0.06),(0.08,0.05),(-0.05,-0.03),
               (0.12,-0.12),(0.25,0.02),(-0.10,-0.05),(0.18,0.08),(0.02,0.10),(0.30,-0.08),(0.22,-0.15),
               (0.35,0.05),(0.06,-0.16),(0.40,-0.02),(0.28,0.14),(-0.08,0.12),(0.45,0.08),(0.15,0.18),
               (0.50,-0.04),(0.10,0.20),(0.55,0.02),(0.32,0.18),(-0.12,-0.10),(0.38,-0.10),(0.14,-0.18),
               (0.04,0.03),(0.09,-0.08),(0.13,0.01),(0.17,-0.09),(0.07,-0.03),(0.21,0.04),(0.26,-0.04),
               (0.11,0.12),(0.03,-0.12),(0.19,0.14),(0.33,-0.03),(0.24,0.10),(0.16,0.23),(-0.02,0.06),
               (0.08,-0.02),(0.12,0.04),(0.18,-0.12),(0.02,-0.10),(0.22,-0.02),(0.26,0.08),(0.06,0.08),
               (0.14,-0.14),(0.30,0.02),(0.10,0.16),(0.20,0.20),(0.34,0.12),(0.42,0.14),(0.48,0.06),
               (-0.06,0.02),(0.16,0.10),(0.24,-0.10),(0.28,-0.14),(0.40,-0.06),(0.36,-0.12),
               (1.11,0.05),(1.74,0.09),(0.84,-0.06),(1.45,0.00)]

# arrows for A_K = 3 in the control field
ak_arrow_top = ((1.79, 5.97), (2.98, 7.84))
ak_arrow_bot = ((-0.10, 0.30), (-0.27, 1.00))

panel_names = ['inside IRAC (recovered)', 'outside IRAC (NEW)', 'Control Field']

# ---------------- plotting ----------------
GRAY = '#8c8c8c'
BLUE = '#4470ff'
BLUE_FILL = '#b8ceff'
SQBLUE = '#5f84ff'
RED = '#e02a22'

fig = plt.figure(figsize=(12, 8.31), dpi=100)
W = 385 / 1200
lefts = [43 / 1200 + i * W for i in range(3)]
top_axes = [fig.add_axes([l, 1 - 372 / 831, W, 371 / 831]) for l in lefts]
bot_axes = [fig.add_axes([l, 1 - 789 / 831, W, 372 / 831]) for l in lefts]


def xy(pts):
    a = np.array(pts)
    return a[:, 0], a[:, 1]


def gray_dots(ax, pts, z=1):
    ax.scatter(*xy(pts), s=8, color=GRAY, edgecolors='none', zorder=z)


def style(ax, top):
    ax.tick_params(which='both', direction='in', top=True, right=True, labelsize=11)
    ax.tick_params(which='major', length=6, width=0.9)
    ax.tick_params(which='minor', length=3, width=0.8)
    for s in ax.spines.values():
        s.set_linewidth(1.0)
    dashdot = (0, (6, 2, 1.5, 2))
    if top:
        ax.set_xlim(-0.5, 13)
        ax.set_ylim(11.7, 1)
        ax.xaxis.set_major_locator(MultipleLocator(2))
        ax.xaxis.set_minor_locator(MultipleLocator(1))
        ax.yaxis.set_major_locator(MultipleLocator(2))
        ax.yaxis.set_minor_locator(MultipleLocator(1))
        ax.set_xlabel('Ks − W3', fontsize=13, labelpad=3)
        # selection limits
        ax.axvline(1.5, color='k', lw=1.3, zorder=5)
        ax.plot([6, 13], [7.4, 7.4], color='k', lw=1.3, zorder=5)
        ax.plot([6, 2.3], [7.4, 11.84], color='k', lw=1.1, zorder=5)
        ax.plot([1.5, 5.0], [9.0, 9.0], color='k', lw=1.3, ls=dashdot, zorder=5)
    else:
        ax.set_xlim(-0.5, 5.4)
        ax.set_ylim(-0.3, 3.6)
        ax.xaxis.set_major_locator(MultipleLocator(1))
        ax.xaxis.set_minor_locator(MultipleLocator(0.5))
        ax.yaxis.set_major_locator(MultipleLocator(1))
        ax.yaxis.set_minor_locator(MultipleLocator(0.5))
        ax.set_xlabel('W2 − W3', fontsize=13, labelpad=3)
        ax.plot([0.75, 0.75], [0, 3.6], color='k', lw=1.3, zorder=5)
        ax.plot([0.75, 5.4], [0, 0], color='k', lw=1.3, zorder=5)
        ax.plot([0.75, 5.4], [0.3, 0.3], color='k', lw=1.1, ls=dashdot, zorder=5)
        ax.plot([1.9, 1.9, 5.4], [3.6, 1.55, 1.55], color='k', lw=1.1, ls=(0, (3, 2)), zorder=5)


for i, ax in enumerate(top_axes):
    style(ax, True)
    ax.text(0.187, 0.92, panel_names[i], transform=ax.transAxes, fontsize=13,
            ha='left', va='center')
for ax in bot_axes:
    style(ax, False)
for ax in top_axes[1:] + bot_axes[1:]:
    ax.tick_params(labelleft=False)

top_axes[0].set_ylabel('W3', fontsize=13, labelpad=2)
bot_axes[0].set_ylabel('W1 − W2', fontsize=13, labelpad=2)

# --- top-left: inside IRAC ---
ax = top_axes[0]
gray_dots(ax, in_gray)
ax.scatter(*xy(in_sq), s=26, marker='s', facecolors='none', edgecolors='#7a7a7a', lw=1.0, zorder=2)
ax.scatter(*xy(in_blue), s=20, marker='o', facecolors=BLUE_FILL, edgecolors=BLUE, lw=0.9, zorder=3)
ax.scatter(*xy(in_red), s=10, color=RED, edgecolors='none', zorder=4)
ax.scatter(*xy(in_cross), s=70, marker='x', color='k', lw=1.8, zorder=6)

# --- top-middle: outside IRAC ---
ax = top_axes[1]
gray_dots(ax, out_gray)
ax.scatter(*xy(out_sq), s=26, marker='s', facecolors='none', edgecolors='#7a7a7a', lw=1.0, zorder=2)
ax.scatter(*xy(out_blue), s=55, marker='s', facecolors='none', edgecolors=SQBLUE, lw=1.4, zorder=3)
gray_dots(ax, out_blue, z=3)
ax.scatter(*xy(out_cross), s=70, marker='x', color='k', lw=1.8, zorder=6)

# --- top-right: control field ---
ax = top_axes[2]
gray_dots(ax, ctl_gray)
ax.scatter(*xy(ctl_sq), s=26, marker='s', facecolors='none', edgecolors='#7a7a7a', lw=1.0, zorder=2)
ax.annotate('', xy=ak_arrow_top[1], xytext=ak_arrow_top[0],
            arrowprops=dict(arrowstyle='-|>', color='red', lw=0.8, mutation_scale=12))
ax.text(2.0, 5.95, r'A$_{\rm K}$=3', color='red', fontsize=11, ha='left', va='center')

# --- bottom-left ---
ax = bot_axes[0]
gray_dots(ax, in_gray_cc)
ax.scatter(*xy(in_blue_cc), s=20, marker='o', facecolors=BLUE_FILL, edgecolors=BLUE, lw=0.9, zorder=3)
ax.scatter(*xy(in_red_cc), s=10, color=RED, edgecolors='none', zorder=4)
ax.scatter(*xy(in_cross_cc), s=70, marker='x', color='k', lw=1.8, zorder=6)

# --- bottom-middle ---
ax = bot_axes[1]
gray_dots(ax, out_gray_cc)
ax.scatter(*xy(out_blue_cc), s=55, marker='s', facecolors='none', edgecolors=SQBLUE, lw=1.4, zorder=3)
gray_dots(ax, out_blue_cc, z=3)
ax.scatter(*xy(out_cross_cc), s=70, marker='x', color='k', lw=1.8, zorder=6)

# --- bottom-right ---
ax = bot_axes[2]
gray_dots(ax, ctl_gray_cc)
ax.annotate('', xy=ak_arrow_bot[1], xytext=ak_arrow_bot[0],
            arrowprops=dict(arrowstyle='-|>', color='red', lw=0.8, mutation_scale=12))
ax.text(-0.04, 0.49, r'A$_{\rm K}$=3', color='red', fontsize=11, ha='left', va='center')

fig.savefig('out.png', dpi=100)
